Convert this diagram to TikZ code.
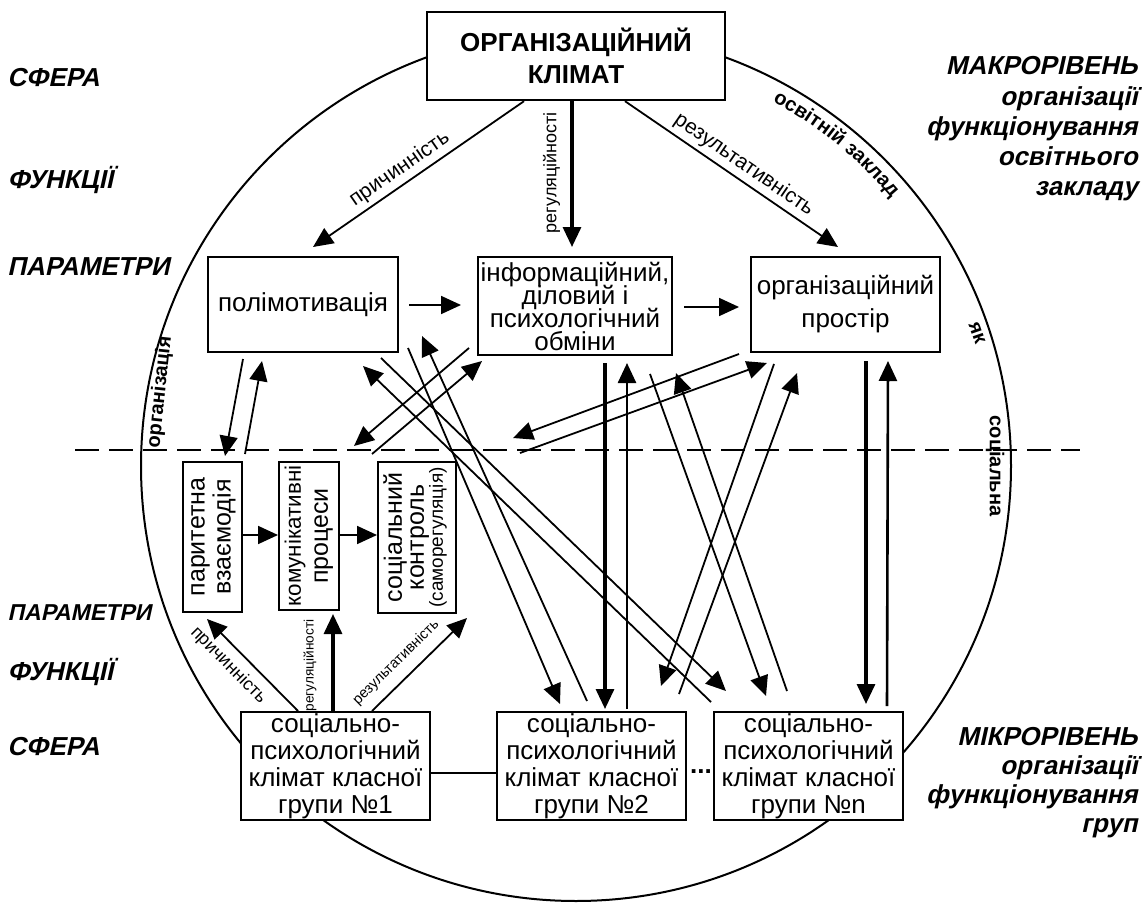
\documentclass[tikz,border=0pt]{standalone}
\usepackage{fontspec}
\setmainfont{Liberation Sans}
\usetikzlibrary{arrows.meta,calc,decorations.text}

\newcommand{\uprot}[1]{\rotatebox{90}{\begin{tabular}{@{}c@{}}#1\end{tabular}}}
\newcommand{\tightlines}{\lineskiplimit=-10pt\relax}

\tikzset{
  box/.style={draw,line width=1pt,fill=white,inner sep=0pt,align=center,
    font=\fontsize{13}{13.5}\selectfont},
  vbox/.style={box,font=\fontsize{12.5}{13}\selectfont},
  arr/.style={line width=0.9pt,-{Triangle[length=10pt,width=9pt]}},
  thickarr/.style={arr,line width=1.6pt},
  sidelab/.style={font=\bfseries\fontsize{13}{15}\selectfont,inner sep=0pt,anchor=west,xslant=0.22},
  lvllab/.style={font=\bfseries\fontsize{13}{15}\selectfont,inner sep=0pt,anchor=base east,xslant=0.22},
  toplab/.style={font=\fontsize{10.5}{12}\selectfont,inner sep=1pt},
  sublab/.style={font=\fontsize{9}{10}\selectfont,inner sep=1pt},
  arclab/.style={font=\fontsize{10}{12}\selectfont\bfseries,inner sep=0pt},
}

\begin{document}
\begin{tikzpicture}[x=0.5pt,y=-0.5pt]
\useasboundingbox (0,0) rectangle (1146,904);

% circle and level line
\draw[line width=1pt] (576,466) circle[radius=435];
\draw[line width=1pt,dash pattern=on 12pt off 5pt] (75,450) -- (1080,450);

% words along the circle
\path[decorate,decoration={text along path,text align=center,
  text={|\bfseries\fontsize{10}{12}\selectfont|освітній  заклад}}]
  (576,466) ++(-67:414) arc[start angle=-67,end angle=-35,radius=414];
\node[arclab,rotate=-71] (yak) at (977,333) {як};
\node[arclab,rotate=-90] (sotsialna) at (995,466) {соціальна};
\node[arclab,rotate=84] (orgzatsia) at (160,392) {організація};

% side labels
\node[sidelab] (sfera1) at (9,78) {СФЕРА};
\node[sidelab] (funk1) at (9,180) {ФУНКЦІЇ};
\node[sidelab] (param1) at (9,267) {ПАРАМЕТРИ};
\node[sidelab,font=\bfseries\fontsize{11.5}{15}\selectfont] (param2) at (9,613) {ПАРАМЕТРИ};
\node[sidelab] (funk2) at (9,672) {ФУНКЦІЇ};
\node[sidelab] (sfera2) at (9,747) {СФЕРА};
\foreach \t [count=\i] in {МАКРОРІВЕНЬ,організації,функціонування,освітнього,закладу}
  \node[lvllab] (makro\i) at (1138,45+30*\i) {\t};
\foreach \t [count=\i] in {МІКРОРІВЕНЬ,організації,функціонування,груп}
  \node[lvllab] (mikro\i) at (1138,716+29*\i) {\t};

% boxes
\node[box,line width=1.2pt,minimum width=149pt,minimum height=44pt,
  font=\fontsize{13}{16}\selectfont\bfseries] (klimat) at (576,56) {ОРГАНІЗАЦІЙНИЙ\\КЛІМАТ};
\node[box,minimum width=95pt,minimum height=47.5pt] (polimot) at (303,304.5) {полімотивація};
\node[box,minimum width=97pt,minimum height=49pt,
  font=\fontsize{13}{11.5}\selectfont\tightlines] (obmin) at (575,306)
  {інформаційний,\\діловий і\\психологічний\\обміни};
\node[box,minimum width=94.5pt,minimum height=47.5pt,font=\fontsize{13}{16.5}\selectfont] (prostir) at (845.5,304.5)
  {організаційний\\простір};
\node[vbox,minimum width=29.5pt,minimum height=75pt] (vzaem) at (212.5,537) {\uprot{паритетна\\взаємодія}};
\node[vbox,minimum width=30pt,minimum height=74pt,font=\fontsize{12.5}{13.5}\selectfont] (komun) at (309,536)
  {\uprot{{\fontsize{11.2}{13.5}\selectfont комунікативні}\\процеси}};
\node[vbox,minimum width=39pt,minimum height=75.5pt] (kontrol) at (417,537.5)
  {\uprot{соціальний\\[-2pt]контроль\\[-3.5pt]{\fontsize{9.5}{11}\selectfont(саморегуляція)}}};
\node[box,minimum width=94.5pt,minimum height=54pt] (grupa1) at (335.5,766) {соціально-\\психологічний\\клімат класної\\групи №1};
\node[box,minimum width=94.5pt,minimum height=54pt] (grupa2) at (591.5,766) {соціально-\\психологічний\\клімат класної\\групи №2};
\node[box,minimum width=94.5pt,minimum height=54pt] (grupan) at (808.5,766) {соціально-\\психологічний\\клімат класної\\групи №n};
\node[inner sep=0pt,font=\fontsize{13}{13}\selectfont\bfseries] (dots) at (701,772) {...};
\draw[line width=1pt] ($(grupa1.east)+(0,7)$) -- ($(grupa2.west)+(0,7)$);

% macro level arrows
\draw[arr] ($(klimat.south)+(-52,0)$) -- ($(polimot.north)+(10,-9)$)
  node[toplab,pos=0.55,sloped,above=1pt] (lprich1) {причинність};
\draw[thickarr] ($(klimat.south)+(-4,0)$) -- ($(obmin.north)+(-3,-9)$)
  node[sublab,pos=0.49,rotate=90,anchor=south,outer sep=5pt] (lregul1) {регуляційності};
\draw[arr] ($(klimat.south)+(49,0)$) -- ($(prostir.north)+(-7.5,-9)$)
  node[toplab,pos=0.52,sloped,above=1pt] (lrezult1) {результативність};
\draw[arr] ($(polimot.east)+(10,0.5)$) -- ($(obmin.west)+(-16,-1)$);
\draw[arr] ($(obmin.east)+(11,1)$) -- ($(prostir.west)+(-11,2.5)$);
\draw[arr] ($(polimot.south)+(-60,6)$) -- ($(vzaem.north)+(12.5,-5)$);
\draw[arr] ($(vzaem.north)+(32.5,-7)$) -- ($(polimot.south)+(-41,8)$);

% micro level arrows
\draw[arr] ($(vzaem.east)+(0,-2)$) -- ($(komun.west)+(0,-1)$);
\draw[arr] ($(komun.east)+(0,-1)$) -- ($(kontrol.west)+(0,-2.5)$);
\draw[arr] ($(grupa1.north)+(-37.5,0)$) -- ($(vzaem.south)+(-5.5,6)$)
  node[sublab,pos=0.63,sloped,below=3pt] (lprich2) {причинність};
\draw[thickarr] ($(grupa1.north)+(-2.5,0)$) -- ($(komun.south)+(24,3)$)
  node[sublab,font=\fontsize{6.8}{8}\selectfont,pos=0.47,sloped,above=6.5pt] (lregul2) {регуляційності};
\draw[arr] ($(grupa1.north)+(36.5,0)$) -- ($(kontrol.south)+(50,4)$)
  node[sublab,font=\fontsize{7.3}{8}\selectfont,pos=0.385,sloped,above=4pt] (lrezult2) {результативність};

% links between the levels
\draw[arr] ($(komun.north)+(63,-7)$) -- ($(obmin.south west)+(5,5)$);
\draw[arr] ($(obmin.south west)+(-8,-8)$) -- ($(kontrol.north west)+(-23,-15)$);
\draw[arr] ($(grupan.north west)+(-2,-9)$) -- ($(polimot.south east)+(-36,13)$);
\draw[arr] ($(polimot.south east)+(-18,5)$) -- ($(grupan.north west)+(13,-20)$);
\draw[arr] ($(polimot.south east)+(9,-5)$) -- ($(grupa2.north west)+(64,-7)$);
\draw[arr] ($(grupa2.north west)+(91,-10)$) -- ($(obmin.south west)+(-55,-20)$);
\draw[thickarr] ($(obmin.south)+(30,7)$) -- ($(grupa2.north)+(13.5,-2)$);
\draw[arr,line width=1.3pt] ($(grupa2.north)+(35.5,-2)$) -- ($(obmin.south)+(52,7)$);
\draw[arr] ($(prostir.south west)+(-11,1)$) -- ($(obmin.south)+(-62,82)$);
\draw[arr] ($(obmin.south)+(-55,97)$) -- ($(prostir.south west)+(17,10)$);
\draw[arr] ($(obmin.south east)+(-23,18)$) -- ($(grupan.north west)+(53,-15)$);
\draw[arr] ($(grupan.north west)+(74,-20)$) -- ($(obmin.south east)+(3,17)$);
\draw[arr] ($(prostir.south west)+(24,11)$) -- ($(grupa2.north east)+(-26,-25)$);
\draw[arr] ($(grupa2.north east)+(-8,-17)$) -- ($(prostir.south west)+(47,20)$);
\draw[thickarr] ($(prostir.south)+(20.5,8)$) -- ($(grupan.north)+(57.5,-7)$);
\draw[arr,line width=1.3pt] ($(grupan.north)+(78.5,-5)$) -- ($(prostir.south)+(42.5,8)$);
\end{tikzpicture}
\end{document}
